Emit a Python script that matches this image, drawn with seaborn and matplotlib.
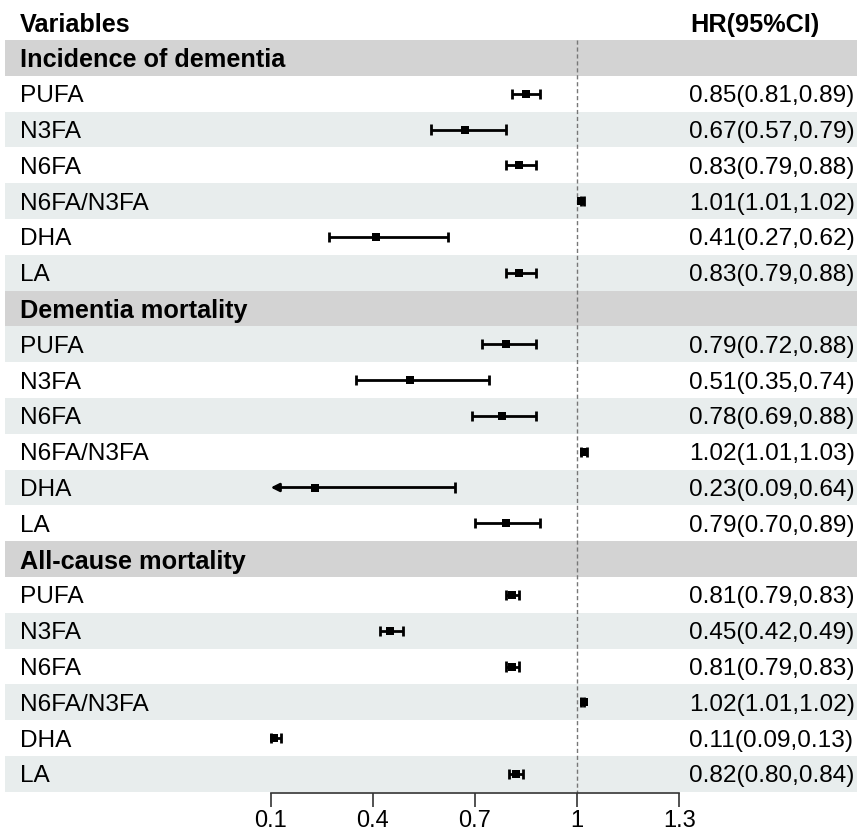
import numpy as np
import pandas as pd
import matplotlib
matplotlib.use("Agg")
import matplotlib.pyplot as plt
import seaborn as sns

groups = ["Incidence of dementia", "Dementia mortality", "All-cause mortality"]
variables = ["PUFA", "N3FA", "N6FA", "N6FA/N3FA", "DHA", "LA"]

hr_incidence = [0.85, 0.67, 0.83, 1.01, 0.41, 0.83]
lo_incidence = [0.81, 0.57, 0.79, 1.01, 0.27, 0.79]
hi_incidence = [0.89, 0.79, 0.88, 1.02, 0.62, 0.88]

hr_dem_mort = [0.79, 0.51, 0.78, 1.02, 0.23, 0.79]
lo_dem_mort = [0.72, 0.35, 0.69, 1.01, 0.09, 0.70]
hi_dem_mort = [0.88, 0.74, 0.88, 1.03, 0.64, 0.89]

hr_all_mort = [0.81, 0.45, 0.81, 1.02, 0.11, 0.82]
lo_all_mort = [0.79, 0.42, 0.79, 1.01, 0.09, 0.80]
hi_all_mort = [0.83, 0.49, 0.83, 1.02, 0.13, 0.84]

xticks = [0.1, 0.4, 0.7, 1.0, 1.3]
xtick_labels = ["0.1", "0.4", "0.7", "1", "1.3"]

# build the table, one row per line of the plot
hr_all = [hr_incidence, hr_dem_mort, hr_all_mort]
lo_all = [lo_incidence, lo_dem_mort, lo_all_mort]
hi_all = [hi_incidence, hi_dem_mort, hi_all_mort]
rows = []
pos = 1
for g, hrs, los, his in zip(groups, hr_all, lo_all, hi_all):
    rows.append(dict(row=pos, label=g, header=True, hr=np.nan, lo=np.nan, hi=np.nan))
    pos += 1
    for v, h, l, u in zip(variables, hrs, los, his):
        rows.append(dict(row=pos, label=v, header=False, hr=h, lo=l, hi=u))
        pos += 1
df = pd.DataFrame(rows)
n_rows = pos - 1

sns.set_theme(style="white")
plt.rcParams['font.family'] = ['Liberation Sans', 'DejaVu Sans']
plt.rcParams['text.color'] = 'black'
plt.rcParams['xtick.color'] = 'black'
fs = 17.6
fs_bold = 18.2

W, H = 857, 835
fig = plt.figure(figsize=(W / 100, H / 100), dpi=100)
ax_bottom = 793
ax = fig.add_axes([0, 1 - ax_bottom / H, 1, ax_bottom / H])

# x scale: 0.1 at px 270.7, 1.3 at px 679.3
px_per = (679.3 - 270.7) / 1.2
ax.set_xlim(0.1 - 270.7 / px_per, 0.1 + (W - 270.7) / px_per)
row_px = 35.8
top_first = 40
ax.set_ylim(n_rows + 0.5 + (ax_bottom - (top_first + n_rows * row_px)) / row_px,
            0.5 - top_first / row_px)

# backgrounds
for _, r in df.iterrows():
    if r["header"]:
        ax.axhspan(r["row"] - 0.5, r["row"] + 0.5, xmin=5 / W, xmax=1, color="#d3d3d3", lw=0, zorder=0)
    elif r["row"] % 2 == 1:
        ax.axhspan(r["row"] - 0.5, r["row"] + 0.5, xmin=5 / W, xmax=1, color="#e8eded", lw=0, zorder=0)

# reference line
ax.vlines(1.0, 0.5, ax.get_ylim()[0], colors="#777777", linestyles=(0, (3, 2)), lw=1, zorder=1)

# confidence intervals
est = df[~df["header"]].copy()
xmin_plot = 0.1
for _, r in est.iterrows():
    lo = max(r["lo"], xmin_plot)
    if r["lo"] < xmin_plot and r["hi"] - xmin_plot > 0.1:
        ax.annotate("", xy=(xmin_plot, r["row"]), xytext=(r["hi"], r["row"]),
                    arrowprops=dict(arrowstyle="-|>", color="black", lw=2,
                                    mutation_scale=12, shrinkA=0, shrinkB=0), zorder=2)
        ax.vlines(r["hi"], r["row"] - 0.14, r["row"] + 0.14, colors="black", lw=2, zorder=2)
    else:
        ax.hlines(r["row"], lo, r["hi"], colors="black", lw=2, zorder=2)
        ax.vlines([lo, r["hi"]], r["row"] - 0.14, r["row"] + 0.14, colors="black", lw=2, zorder=2)

sns.scatterplot(data=est, x="hr", y="row", marker="s", color="black", s=28,
                edgecolor="black", linewidth=0, ax=ax, zorder=3, legend=False)

# text columns
tr = ax.get_yaxis_transform()
ax.text(20 / W, 0, "Variables", transform=tr, fontsize=fs_bold,
        fontweight="bold", va="center_baseline", ha="left")
ax.text(690 / W, 0, "HR(95%CI)", transform=tr, fontsize=fs_bold,
        fontweight="bold", va="center_baseline", ha="left")
for _, r in df.iterrows():
    if r["header"]:
        ax.text(20 / W, r["row"], r["label"], transform=tr, fontsize=fs_bold,
                fontweight="bold", va="center_baseline", ha="left")
    else:
        ax.text(20 / W, r["row"], r["label"], transform=tr, fontsize=fs,
                va="center_baseline", ha="left")
        s = f"{r['hr']:.2f}({r['lo']:.2f},{r['hi']:.2f})"
        ax.text(689 / W, r["row"], s, transform=tr, fontsize=fs,
                va="center_baseline", ha="left")

# axis
for sp in ["top", "left", "right"]:
    ax.spines[sp].set_visible(False)
ax.spines["bottom"].set_bounds(0.1, 1.3)
ax.spines["bottom"].set_color("#333333")
ax.spines["bottom"].set_linewidth(1.2)
ax.set_xticks(xticks)
ax.set_xticklabels(xtick_labels, fontsize=17)
ax.tick_params(axis="x", length=10, width=1.2, color="#333333", pad=2.5, bottom=True)
ax.set_yticks([])
ax.set_xlabel("")
ax.set_ylabel("")

fig.savefig("out.png", dpi=100)
